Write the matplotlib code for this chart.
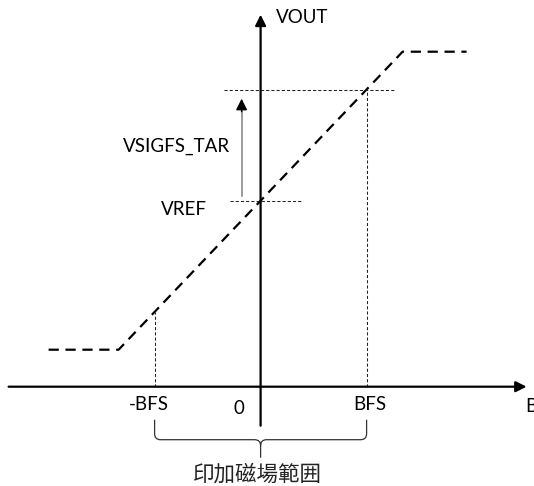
import matplotlib.pyplot as plt
from matplotlib.path import Path
from matplotlib.patches import PathPatch

# transfer curve (B on x, VOUT on y), in drawing units
b_pts = [-212, -142, 142, 206]
vout_pts = [37, 37, 335, 335]

bfs = 106
vref = 186
vout_bfs = 297
vout_neg_bfs = 75

x_axis = (-252, 266)
y_axis = (-39, 372)

plt.rcParams['font.family'] = ['Lato', 'Noto Sans CJK TC', 'DejaVu Sans']

fig = plt.figure(figsize=(5.34, 4.86), dpi=100)
ax = fig.add_axes([0, 0, 1, 1])
ax.set_xlim(-260.6, 273.4)
ax.set_ylim(-99.3, 386.7)
ax.axis('off')

# axes with arrow heads
ax.annotate('', xy=(x_axis[1], 0), xytext=(x_axis[0], 0),
            arrowprops=dict(arrowstyle='-|>', color='black', lw=1.6,
                            mutation_scale=16, shrinkA=0, shrinkB=0))
ax.annotate('', xy=(0, y_axis[1]), xytext=(0, y_axis[0]),
            arrowprops=dict(arrowstyle='-|>', color='black', lw=1.6,
                            mutation_scale=16, shrinkA=0, shrinkB=0))

# dashed output curve
ln, = ax.plot(b_pts, vout_pts, color='black', lw=1.6)
ln.set_dashes((4.6, 3.0))

# thin dotted guides
dot = dict(color='#222222', lw=0.75, dashes=(3.0, 2.0))
ax.plot([-37, 134], [vout_bfs, vout_bfs], **dot)
ax.plot([-31, 42], [vref, vref], **dot)
ax.plot([-bfs, -bfs], [0, vout_neg_bfs], **dot)
ax.plot([bfs, bfs], [0, vout_bfs], **dot)

# VSIGFS_TAR arrow
ax.plot([-19, -19], [vref + 5, vout_bfs - 20], color='#808080', lw=1.1)
ax.annotate('', xy=(-19, vout_bfs - 9), xytext=(-19, vout_bfs - 22),
            arrowprops=dict(arrowstyle='-|>', color='black', lw=1,
                            mutation_scale=17, shrinkA=0, shrinkB=0))

# brace under the field range
top, mid, tip, r = -33, -53, -71, 6
verts = [(-bfs, top), (-bfs, mid + r), (-bfs, mid), (-bfs + r, mid),
         (-r, mid), (0, mid), (0, mid - r), (0, tip),
         (0, mid - r), (0, mid), (r, mid), (bfs - r, mid),
         (bfs, mid), (bfs, mid + r), (bfs, top)]
codes = [Path.MOVETO, Path.LINETO, Path.CURVE3, Path.CURVE3,
         Path.LINETO, Path.CURVE3, Path.CURVE3, Path.LINETO,
         Path.MOVETO, Path.CURVE3, Path.CURVE3, Path.LINETO,
         Path.CURVE3, Path.CURVE3, Path.LINETO]
ax.add_patch(PathPatch(Path(verts, codes), facecolor='none',
                       edgecolor='#333333', lw=0.9))

fs = 13.5
ax.text(15, 369, 'VOUT', fontsize=fs, ha='left', va='center')
ax.text(-31, 240, 'VSIGFS_TAR', fontsize=fs, ha='right', va='center')
ax.text(-54, 177, 'VREF', fontsize=fs, ha='right', va='center')
ax.text(-112, -18, '-BFS', fontsize=fs, ha='center', va='center')
ax.text(-22, -22, '0', fontsize=fs, ha='center', va='center')
ax.text(109, -18, 'BFS', fontsize=fs, ha='center', va='center')
ax.text(265, -20, 'B', fontsize=fs, ha='left', va='center')
ax.text(-3, -88, '印加磁場範囲', fontsize=15.5, ha='center', va='center',
        family=['Noto Sans CJK TC', 'DejaVu Sans'], color='#222222')

fig.savefig('out.png', dpi=100)
